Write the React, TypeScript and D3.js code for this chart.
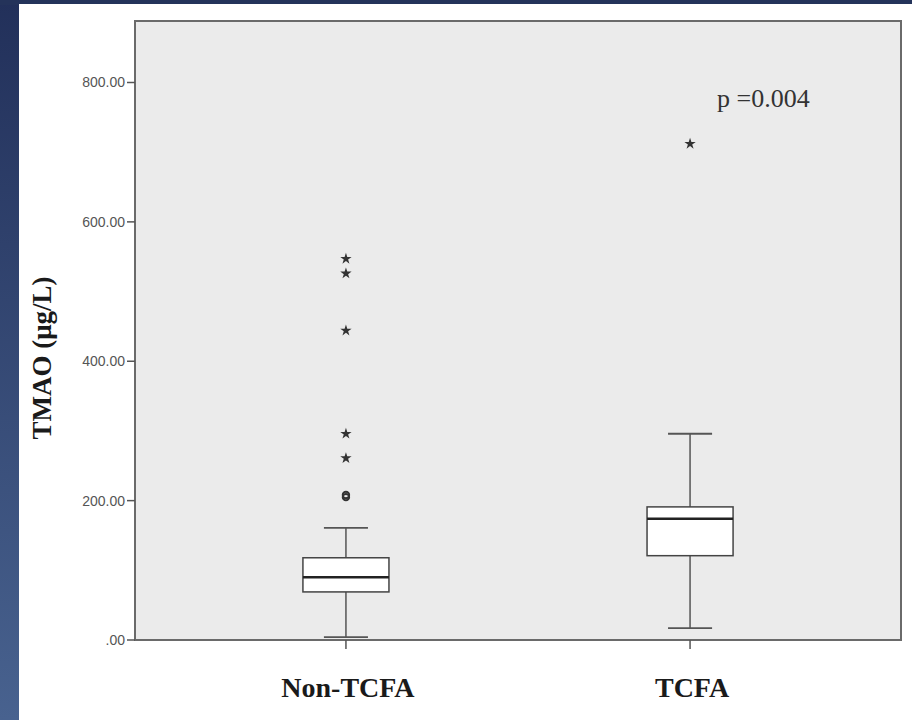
import React from "react";
import * as d3 from "d3";

const categories = ["Non-TCFA", "TCFA"];
const q1 = [69, 121];
const median = [90, 174];
const q3 = [118, 191];
const whiskerLow = [4, 17];
const whiskerHigh = [161, 296];
const circleOutliers = [[205, 208], []];
const starOutliers = [[261, 296, 444, 526, 547], [712]];
const yTicks = [0, 200, 400, 600, 800];
const yTickLabels = [".00", "200.00", "400.00", "600.00", "800.00"];
const pLabel = "p =0.004";
const yTitle = "TMAO (\u03bcg/L)";

const W = 912;
const H = 720;
const plot = { left: 135, top: 21, right: 901, bottom: 640 };

export default function App() {
  const y = d3.scaleLinear().domain([0, 800]).range([plot.bottom, 82.5]);
  const x = d3
    .scalePoint<string>()
    .domain(categories)
    .range([plot.left, plot.right])
    .padding(0.613);
  const step = x.step();
  const boxW = step * 0.25;
  const capHalf = step * 0.064;
  const star = d3.symbol().type(d3.symbolStar).size(40)() || "";
  const serif = "'Liberation Serif', 'Times New Roman', serif";
  const sans = "'Liberation Sans', Arial, sans-serif";

  return (
    <svg
      width={W}
      height={H}
      style={{ position: "absolute", left: 0, top: 0, display: "block" }}
    >
      <defs>
        <linearGradient id="leftbg" x1="0" y1="0" x2="0" y2="1">
          <stop offset="0" stopColor="#22305a" />
          <stop offset="1" stopColor="#48628f" />
        </linearGradient>
      </defs>
      <rect x={0} y={0} width={W} height={H} fill="url(#leftbg)" />
      <rect x={0} y={0} width={W} height={5} fill="#24335a" />
      <rect x={19} y={4} width={W - 19} height={H - 4} fill="#ffffff" />
      <rect
        x={plot.left}
        y={plot.top}
        width={plot.right - plot.left}
        height={plot.bottom - plot.top}
        fill="#ebebeb"
        stroke="#6a6a6a"
        strokeWidth={2}
      />
      {yTicks.map((t, i) => (
        <g key={t}>
          <line
            x1={plot.left - 8}
            x2={plot.left}
            y1={y(t)}
            y2={y(t)}
            stroke="#555"
            strokeWidth={1.5}
          />
          <text
            x={plot.left - 10}
            y={y(t)}
            dy="0.35em"
            textAnchor="end"
            fontFamily={sans}
            fontSize={14}
            fill="#555"
          >
            {yTickLabels[i]}
          </text>
        </g>
      ))}
      {categories.map((c) => (
        <line
          key={c}
          x1={x(c)}
          x2={x(c)}
          y1={plot.bottom}
          y2={plot.bottom + 9}
          stroke="#555"
          strokeWidth={1.5}
        />
      ))}
      {categories.map((c, i) => {
        const cx = x(c) as number;
        return (
          <g key={c}>
            <line x1={cx} x2={cx} y1={y(whiskerHigh[i])} y2={y(q3[i])} stroke="#555" strokeWidth={1.5} />
            <line x1={cx} x2={cx} y1={y(q1[i])} y2={y(whiskerLow[i])} stroke="#555" strokeWidth={1.5} />
            <line x1={cx - capHalf} x2={cx + capHalf} y1={y(whiskerHigh[i])} y2={y(whiskerHigh[i])} stroke="#555" strokeWidth={1.8} />
            <line x1={cx - capHalf} x2={cx + capHalf} y1={y(whiskerLow[i])} y2={y(whiskerLow[i])} stroke="#555" strokeWidth={1.8} />
            <rect
              x={cx - boxW / 2}
              y={y(q3[i])}
              width={boxW}
              height={y(q1[i]) - y(q3[i])}
              fill="#ffffff"
              stroke="#444"
              strokeWidth={1.5}
            />
            <line
              x1={cx - boxW / 2}
              x2={cx + boxW / 2}
              y1={y(median[i])}
              y2={y(median[i])}
              stroke="#222"
              strokeWidth={2.5}
            />
            {circleOutliers[i].map((v, j) => (
              <circle key={"c" + j} cx={cx} cy={y(v)} r={3.2} fill="none" stroke="#333" strokeWidth={2} />
            ))}
            {starOutliers[i].map((v, j) => (
              <path key={"s" + j} d={star} transform={`translate(${cx},${y(v)})`} fill="#333" />
            ))}
            <text
              x={cx + 2}
              y={697}
              textAnchor="middle"
              fontFamily={serif}
              fontWeight="bold"
              fontSize={28}
              fill="#1a1a1a"
            >
              {c}
            </text>
          </g>
        );
      })}
      <text x={717} y={107} fontFamily={serif} fontSize={26} fill="#333">
        {pLabel}
      </text>
      <text
        transform={`translate(51,358) rotate(-90)`}
        textAnchor="middle"
        fontFamily={serif}
        fontWeight="bold"
        fontSize={27}
        fill="#1a1a1a"
      >
        {yTitle}
      </text>
    </svg>
  );
}
